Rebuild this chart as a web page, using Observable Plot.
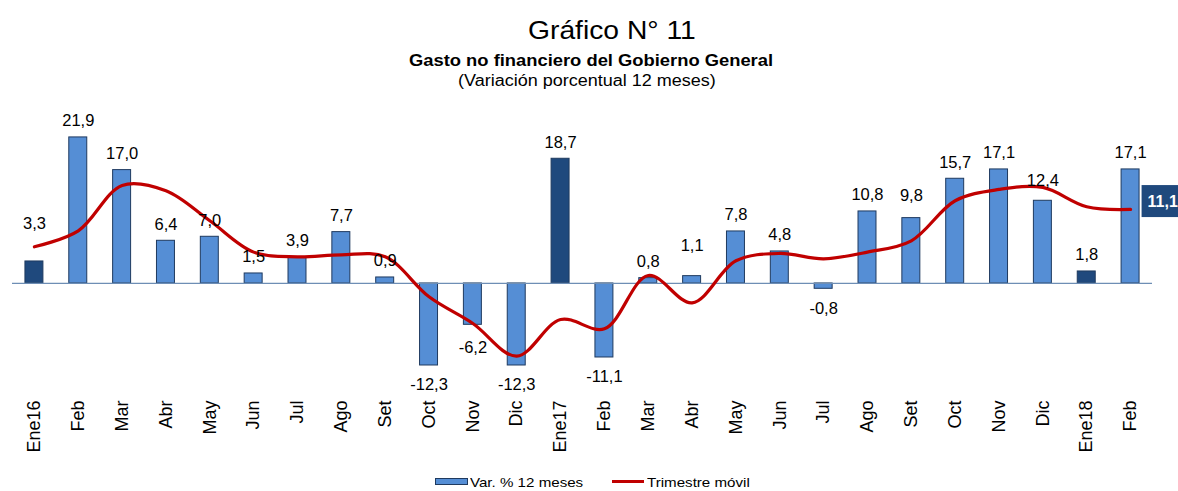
<!DOCTYPE html>
<html>
<head>
<meta charset="utf-8">
<script src="https://cdn.jsdelivr.net/npm/d3@7"></script>
<script src="https://cdn.jsdelivr.net/npm/@observablehq/plot@0.6"></script>
<style>
  html, body { margin: 0; padding: 0; background: #fff; }
  #wrap { position: relative; width: 1178px; height: 491px; overflow: hidden; font-family: "Liberation Sans", Arial, sans-serif; color: #000; }
  .t { position: absolute; white-space: nowrap; line-height: 1; transform-origin: left center; }
  #chart { position: absolute; left: 0; top: 100px; }
  .sw { position: absolute; }
</style>
</head>
<body>
<div id="wrap">
  <div class="t" style="left:528px; top:18px; font-size:25px; transform:scaleX(1.13);">Gráfico N° 11</div>
  <div class="t" style="left:409px; top:53px; font-size:16px; font-weight:bold; transform:scaleX(1.147);">Gasto no financiero del Gobierno General</div>
  <div class="t" style="left:458px; top:73px; font-size:16px; transform:scaleX(1.125);">(Variación porcentual 12 meses)</div>
  <div id="chart"></div>
  <div class="sw" style="left:435px; top:478px; width:31px; height:5px; background:#558ED5; border:1px solid #1F3A5F;"></div>
  <div class="t" style="left:470px; top:476px; font-size:13.5px; transform:scaleX(1.12);">Var. % 12 meses</div>
  <div class="sw" style="left:612px; top:480px; width:32px; height:3px; background:#C00000;"></div>
  <div class="t" style="left:647px; top:476px; font-size:13.5px; transform:scaleX(1.12);">Trimestre móvil</div>
</div>
<script>
// ---- data ----
const labels = ["Ene16","Feb","Mar","Abr","May","Jun","Jul","Ago","Set","Oct","Nov","Dic",
                "Ene17","Feb","Mar","Abr","May","Jun","Jul","Ago","Set","Oct","Nov","Dic",
                "Ene18","Feb"];
const var12 = [3.3, 21.9, 17.0, 6.4, 7.0, 1.5, 3.9, 7.7, 0.9, -12.3, -6.2, -12.3,
               18.7, -11.1, 0.8, 1.1, 7.8, 4.8, -0.8, 10.8, 9.8, 15.7, 17.1, 12.4,
               1.8, 17.1];
const trimestre = [5.5, 7.9, 14.7, 13.9, 9.4, 4.7, 4.0, 4.3, 4.0, -2.0, -6.0, -10.9,
                   -5.4, -6.8, 1.2, -2.9, 3.4, 4.5, 3.7, 4.7, 6.4, 12.4, 14.1, 14.4,
                   11.5, 11.1];

// ---- rendering ----
const idx = d3.range(labels.length);
const rows = idx.map(i => ({i, label: labels[i], v: var12[i], t: trimestre[i]}));
const fmt = v => v.toFixed(1).replace(".", ",");
const light = "#558ED5", dark = "#1F497D";
// extra vertical label offsets (px) to mirror the manual placement in the original
const labelNudge = {0: -21, 10: 3, 15: -14, 20: -6, 23: -4};

const labelMarks = rows.map(r => Plot.text([r], {
  x: "i", y: "v", text: d => fmt(d.v),
  dy: (r.v >= 0 ? -16.5 : 19.5) + (labelNudge[r.i] || 0),
  fontSize: 16.5, fill: "#000"
}));

const last = rows[rows.length - 1];

const chart = Plot.plot({
  width: 1178,
  height: 365,
  marginLeft: 12,
  marginRight: 26,
  marginTop: 16.25,
  marginBottom: 82,
  style: {fontFamily: "'Liberation Sans', Arial, sans-serif", background: "#fff", color: "#000", overflow: "visible"},
  x: {type: "band", domain: idx, paddingInner: 0.59, paddingOuter: 0.295, round: false, axis: null},
  y: {domain: [-15, 25], axis: null},
  marks: [
    Plot.barY(rows, {x: "i", y: "v", fill: d => d.label.startsWith("Ene") ? dark : light, stroke: "#1F3A5F", strokeWidth: 1}),
    Plot.ruleY([0], {stroke: "#6E8EB5", strokeWidth: 1.3}),
    Plot.line(rows, {x: "i", y: "t", stroke: "#C00000", strokeWidth: 3.2, curve: "catmull-rom"}),
    ...labelMarks,
    Plot.text([last], {x: "i", y: "t", text: d => fmt(d.t), dx: 17, dy: -8, textAnchor: "start",
                       fontSize: 16, fontWeight: "bold", fill: "#fff", className: "endlabel"}),
    Plot.axisX({tickSize: 0, tickPadding: 17, tickRotate: -90, fontSize: 18, tickFormat: i => labels[i], label: null})
  ]
});
document.getElementById("chart").appendChild(chart);

// box behind the end label
const g = chart.querySelector("g.endlabel") || chart.querySelector(".endlabel");
if (g) {
  const bb = g.getBBox();
  const rect = document.createElementNS("http://www.w3.org/2000/svg", "rect");
  rect.setAttribute("x", bb.x - 6);
  rect.setAttribute("y", bb.y + bb.height / 2 - 16);
  rect.setAttribute("width", bb.width + 16);
  rect.setAttribute("height", 32);
  rect.setAttribute("fill", dark);
  g.insertBefore(rect, g.firstChild);
}
</script>
</body>
</html>
